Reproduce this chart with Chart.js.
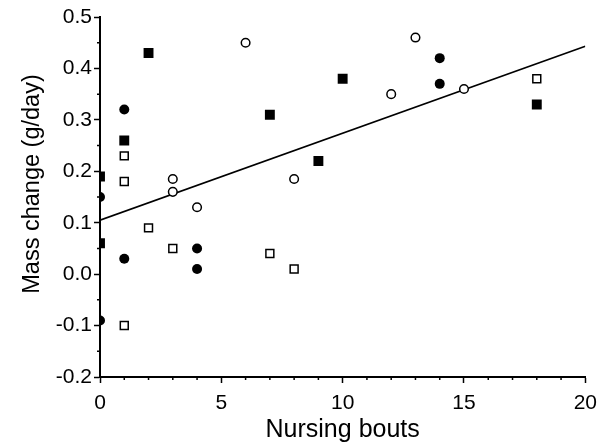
<!DOCTYPE html>
<html>
<head>
<meta charset="utf-8">
<script src="https://cdn.jsdelivr.net/npm/chart.js@4/dist/chart.umd.min.js"></script>
<style>
  html, body { margin: 0; padding: 0; background: #fff; }
  #wrap { width: 605px; height: 442px; }
</style>
</head>
<body>
<div id="wrap"><canvas id="nursing"></canvas></div>
<script>
// values: nursing bouts (x) vs mass change in g/day (y)
const filledSquareX = [0, 0, 1, 2, 7, 9, 10, 18];
const filledSquareY = [0.19, 0.06, 0.26, 0.43, 0.31, 0.22, 0.38, 0.33];

const openSquareX = [1, 1, 1, 2, 3, 7, 8, 18];
const openSquareY = [0.23, 0.18, -0.10, 0.09, 0.05, 0.04, 0.01, 0.38];

const filledCircleX = [0, 0, 1, 1, 4, 4, 14, 14];
const filledCircleY = [0.15, -0.09, 0.32, 0.03, 0.05, 0.01, 0.42, 0.37];

const openCircleX = [3, 3, 4, 6, 8, 12, 13, 15];
const openCircleY = [0.185, 0.16, 0.13, 0.45, 0.185, 0.35, 0.46, 0.36];

// regression line endpoints
const fitX = [0, 20];
const fitY = [0.105, 0.443];

const xTicks = [0, 5, 10, 15, 20];
const yTicks = [-0.2, -0.1, 0.0, 0.1, 0.2, 0.3, 0.4, 0.5];

const yTitle = "Mass change (g/day)";
const xTitle = "Nursing bouts";

const toPoints = (xs, ys) => xs.map((x, i) => ({ x: x, y: ys[i] }));

const FONT = "'Liberation Sans', Arial, Helvetica, sans-serif";

// short minor ticks between the labelled ones, plus the y title
// (it sits a bit above the middle of the axis in the original)
const extras = {
    id: "extras",
    afterDraw(chart) {
        const ctx = chart.ctx;
        const xs = chart.scales.x;
        const ys = chart.scales.y;
        const area = chart.chartArea;
        ctx.save();
        ctx.strokeStyle = "#000";
        ctx.lineWidth = 1.5;
        ctx.beginPath();
        for (let v = 0; v <= 20; v++) {
            if (v % 5 === 0) continue;
            const px = xs.getPixelForValue(v);
            ctx.moveTo(px, area.bottom);
            ctx.lineTo(px, area.bottom + 3);
        }
        for (let k = -4; k <= 10; k++) {
            if (k % 2 === 0) continue;
            const py = ys.getPixelForValue(k * 0.05);
            ctx.moveTo(area.left, py);
            ctx.lineTo(area.left - 3, py);
        }
        ctx.stroke();

        ctx.translate(33, 184);
        ctx.rotate(-Math.PI / 2);
        ctx.fillStyle = "#000";
        ctx.font = "23.5px " + FONT;
        ctx.textAlign = "center";
        ctx.textBaseline = "middle";
        ctx.fillText(yTitle, 0, 0);
        ctx.restore();
    },
};

const ctx = document.getElementById("nursing").getContext("2d");

new Chart(ctx, {
    type: "scatter",
    data: {
        datasets: [
            {
                type: "line",
                label: "fit",
                data: toPoints(fitX, fitY),
                borderColor: "#000",
                borderWidth: 1.6,
                pointRadius: 0,
                fill: false,
                order: 5,
            },
            {
                label: "filled squares",
                data: toPoints(filledSquareX, filledSquareY),
                pointStyle: "rect",
                pointRadius: 7,
                backgroundColor: "#000",
                borderColor: "#000",
                borderWidth: 0,
            },
            {
                label: "open squares",
                data: toPoints(openSquareX, openSquareY),
                pointStyle: "rect",
                pointRadius: 5.6,
                backgroundColor: "#fff",
                borderColor: "#000",
                borderWidth: 1.5,
            },
            {
                label: "filled circles",
                data: toPoints(filledCircleX, filledCircleY),
                pointStyle: "circle",
                pointRadius: 5,
                backgroundColor: "#000",
                borderColor: "#000",
                borderWidth: 0,
            },
            {
                label: "open circles",
                data: toPoints(openCircleX, openCircleY),
                pointStyle: "circle",
                pointRadius: 4.3,
                backgroundColor: "#fff",
                borderColor: "#000",
                borderWidth: 1.5,
            },
        ],
    },
    options: {
        responsive: true,
        maintainAspectRatio: false,
        animation: false,
        layout: { padding: { top: 17, right: 18, left: 0, bottom: 0 } },
        plugins: {
            legend: { display: false },
            tooltip: { enabled: false },
        },
        scales: {
            x: {
                type: "linear",
                min: 0,
                max: 20,
                afterBuildTicks: (scale) => {
                    scale.ticks = xTicks.map((v) => ({ value: v }));
                },
                afterFit: (scale) => { scale.height = 65; },
                grid: {
                    drawOnChartArea: false,
                    drawTicks: true,
                    tickLength: 6,
                    tickWidth: 1.5,
                    tickColor: "#000",
                },
                border: { display: true, color: "#000", width: 2 },
                ticks: {
                    color: "#000",
                    padding: 8,
                    maxRotation: 0,
                    font: { family: FONT, size: 21 },
                },
                title: {
                    display: true,
                    text: xTitle,
                    color: "#000",
                    padding: { top: 0, bottom: -1 },
                    font: { family: FONT, size: 25, lineHeight: 1 },
                },
            },
            y: {
                type: "linear",
                min: -0.2,
                max: 0.5,
                afterBuildTicks: (scale) => {
                    scale.ticks = yTicks.map((v) => ({ value: v }));
                },
                afterFit: (scale) => { scale.width = 100; },
                grid: {
                    drawOnChartArea: false,
                    drawTicks: true,
                    tickLength: 6,
                    tickWidth: 1.5,
                    tickColor: "#000",
                },
                border: { display: true, color: "#000", width: 2 },
                ticks: {
                    color: "#000",
                    padding: 2,
                    callback: (v) => Number(v).toFixed(1),
                    font: { family: FONT, size: 21 },
                },
            },
        },
    },
    plugins: [extras],
});
</script>
</body>
</html>
